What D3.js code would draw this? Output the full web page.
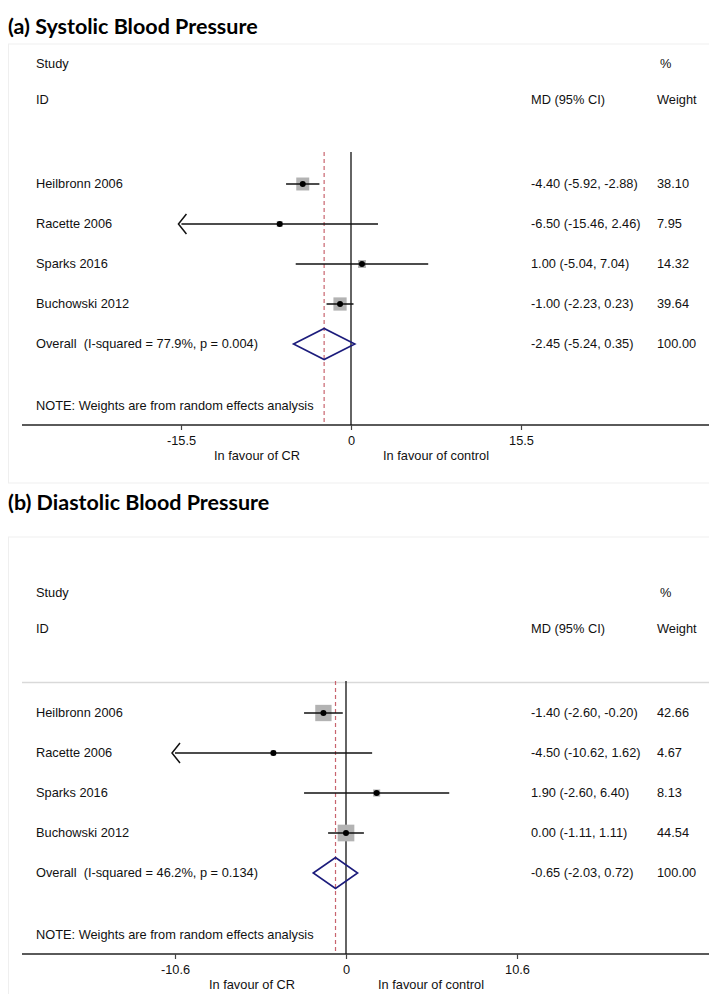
<!DOCTYPE html>
<html>
<head>
<meta charset="utf-8">
<script src="https://cdn.jsdelivr.net/npm/d3@7"></script>
<style>
  html, body { margin: 0; padding: 0; background: #fff; }
  svg { display: block; }
  .lbl { font-family: "Liberation Sans", Arial, sans-serif; font-size: 12.8px; fill: #111; }
  .ttl { font-family: Lato, "Open Sans", sans-serif; font-weight: 700; font-size: 21.5px; fill: #000; }
</style>
</head>
<body>
<script>
// ---- data ----
const studies = ["Heilbronn 2006", "Racette 2006", "Sparks 2016", "Buchowski 2012"];

const sbpMD     = [-4.40, -6.50, 1.00, -1.00];
const sbpLower  = [-5.92, -15.46, -5.04, -2.23];
const sbpUpper  = [-2.88, 2.46, 7.04, 0.23];
const sbpWeight = [38.10, 7.95, 14.32, 39.64];
const sbpOverall = [-2.45, -5.24, 0.35, 100.00];   // estimate, lower, upper, weight
const sbpHet = ["77.9%", "0.004"];
const sbpTicks = [-15.5, 0, 15.5];

const dbpMD     = [-1.40, -4.50, 1.90, 0.00];
const dbpLower  = [-2.60, -10.62, -2.60, -1.11];
const dbpUpper  = [-0.20, 1.62, 6.40, 1.11];
const dbpWeight = [42.66, 4.67, 8.13, 44.54];
const dbpOverall = [-0.65, -2.03, 0.72, 100.00];
const dbpHet = ["46.2%", "0.134"];
const dbpTicks = [-10.6, 0, 10.6];

const W = 709, H = 994;
const svg = d3.select("body").append("svg").attr("width", W).attr("height", H);
const f2 = v => v.toFixed(2);          // plain hyphen-minus, as in the table text

// text columns
const colStudy = 36, colMD = 531, colWeight = 657;

function panel(opt) {
  const g = svg.append("g").attr("transform", `translate(0,${opt.top})`);
  const n = opt.md.length;

  // faint panel frame
  g.append("rect").attr("x", 8.5).attr("y", opt.frameTop).attr("width", W)
    .attr("height", 483 - opt.frameTop).attr("fill", "none").attr("stroke", "#efefef");

  g.append("text").attr("class", "ttl").attr("x", 8).attr("y", opt.titleY).text(opt.title);

  const x = d3.scaleLinear().domain([opt.ticks[0], opt.ticks[2]]).range([opt.x0 - opt.span, opt.x0 + opt.span]);
  const y = d3.scaleLinear().domain([0, n]).range([184, 344]);
  const side = d3.scaleSqrt().domain([0, 100]).range([0, opt.boxMax]);

  const plotTop = 152, axisY = 425;

  if (opt.topRule) {
    g.append("line").attr("x1", 22).attr("x2", W).attr("y1", plotTop + 1.5).attr("y2", plotTop + 1.5)
      .attr("stroke", "#d9d9d9").attr("stroke-width", 1.5);
  }

  // headers
  const hdr = [["Study", colStudy, 64], ["%", colWeight + 3, 64], ["ID", colStudy, 100],
               ["MD (95% CI)", colMD, 100], ["Weight", colWeight, 100]];
  g.selectAll("text.hdr").data(hdr).join("text").attr("class", "lbl hdr")
    .attr("x", d => d[1]).attr("y", d => d[2]).attr("dy", "0.35em").text(d => d[0]);

  // line of no effect
  g.append("line").attr("x1", x(0)).attr("x2", x(0)).attr("y1", plotTop).attr("y2", axisY)
    .attr("stroke", "#111").attr("stroke-width", 1.3);

  // overall estimate reference line
  g.append("line").attr("x1", x(opt.overall[0])).attr("x2", x(opt.overall[0]))
    .attr("y1", plotTop).attr("y2", axisY)
    .attr("stroke", "#c8646e").attr("stroke-width", 1.2).attr("stroke-dasharray", "4,3");

  const rows = d3.range(n).map(i => ({
    name: studies[i], md: opt.md[i], lo: opt.lo[i], hi: opt.hi[i], w: opt.w[i]
  }));
  const tickMin = d3.min(opt.ticks), tickMax = d3.max(opt.ticks);

  const r = g.selectAll("g.row").data(rows).join("g").attr("class", "row")
    .attr("transform", (d, i) => `translate(0,${y(i)})`);

  r.append("rect")
    .attr("x", d => x(d.md) - side(d.w) / 2).attr("y", d => -side(d.w) / 2)
    .attr("width", d => side(d.w)).attr("height", d => side(d.w))
    .attr("fill", "#b3b3b3");

  r.append("line")
    .attr("x1", d => x(Math.max(d.lo, tickMin))).attr("x2", d => x(Math.min(d.hi, tickMax)))
    .attr("stroke", "#111").attr("stroke-width", 1.5);

  // open arrow where the interval runs past the axis
  r.filter(d => d.lo < tickMin * 0.995).append("path")
    .attr("d", d => { const ax = x(Math.max(d.lo, tickMin)) - 3; return `M${ax + 8},-10L${ax},0L${ax + 8},10`; })
    .attr("fill", "none").attr("stroke", "#111").attr("stroke-width", 1.5);

  r.append("circle").attr("cx", d => x(d.md)).attr("r", 3).attr("fill", "#000");

  r.append("text").attr("class", "lbl").attr("x", colStudy).attr("dy", "0.35em").text(d => d.name);
  r.append("text").attr("class", "lbl").attr("x", colMD).attr("dy", "0.35em")
    .text(d => `${f2(d.md)} (${f2(d.lo)}, ${f2(d.hi)})`);
  r.append("text").attr("class", "lbl").attr("x", colWeight).attr("dy", "0.35em").text(d => f2(d.w));

  // pooled estimate
  const oy = y(n), [est, olo, ohi, ow] = opt.overall;
  g.append("path")
    .attr("d", `M${x(olo)},${oy}L${x(est)},${oy - 15.5}L${x(ohi)},${oy}L${x(est)},${oy + 15.5}Z`)
    .attr("fill", "none").attr("stroke", "#1c1c7c").attr("stroke-width", 1.6);
  g.append("text").attr("class", "lbl").attr("x", colStudy).attr("y", oy).attr("dy", "0.35em")
    .attr("xml:space", "preserve")
    .text(`Overall  (I-squared = ${opt.het[0]}, p = ${opt.het[1]})`);
  g.append("text").attr("class", "lbl").attr("x", colMD).attr("y", oy).attr("dy", "0.35em")
    .text(`${f2(est)} (${f2(olo)}, ${f2(ohi)})`);
  g.append("text").attr("class", "lbl").attr("x", colWeight).attr("y", oy).attr("dy", "0.35em")
    .text(f2(ow));

  g.append("text").attr("class", "lbl").attr("x", colStudy).attr("y", 406).attr("dy", "0.35em")
    .text("NOTE: Weights are from random effects analysis");

  // x axis
  const axis = d3.axisBottom(x).tickValues(opt.ticks).tickSize(5)
    .tickFormat(d => d === 0 ? "0" : d.toFixed(1));
  const ag = g.append("g").attr("transform", `translate(0,${axisY})`).call(axis);
  ag.select(".domain").remove();
  ag.selectAll(".tick line").attr("stroke", "#444").attr("stroke-width", 1.2);
  ag.selectAll(".tick text").attr("class", "lbl").attr("font-family", null).attr("font-size", null)
    .attr("y", 11).attr("dy", "0.71em");
  g.insert("line", ":first-child").attr("x1", 22).attr("x2", W).attr("y1", axisY).attr("y2", axisY)
    .attr("stroke", "#5a5a5a").attr("stroke-width", 2);

  g.append("text").attr("class", "lbl").attr("x", x(0) - 94).attr("y", 456).attr("dy", "0.35em")
    .attr("text-anchor", "middle").text("In favour of CR");
  g.append("text").attr("class", "lbl").attr("x", x(0) + 85).attr("y", 456).attr("dy", "0.35em")
    .attr("text-anchor", "middle").text("In favour of control");
}

panel({
  top: 0, frameTop: 44, titleY: 34, title: "(a) Systolic Blood Pressure",
  md: sbpMD, lo: sbpLower, hi: sbpUpper, w: sbpWeight, overall: sbpOverall, het: sbpHet,
  ticks: sbpTicks, x0: 351, span: 170, boxMax: 21, topRule: false
});
panel({
  top: 529, frameTop: 8, titleY: -19, title: "(b) Diastolic Blood Pressure",
  md: dbpMD, lo: dbpLower, hi: dbpUpper, w: dbpWeight, overall: dbpOverall, het: dbpHet,
  ticks: dbpTicks, x0: 346, span: 171, boxMax: 25, topRule: true
});
</script>
</body>
</html>
